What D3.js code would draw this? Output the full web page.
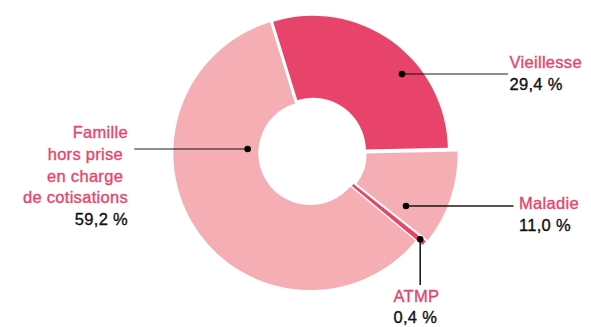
<!DOCTYPE html>
<html>
<head>
<meta charset="utf-8">
<script src="https://cdn.jsdelivr.net/npm/d3@7"></script>
<style>
  html, body { margin: 0; padding: 0; background: #fff; }
  svg text { font-family: "Liberation Sans", Arial, Helvetica, sans-serif; }
</style>
</head>
<body>
<svg id="chart" width="591" height="327"></svg>
<script>
// ---- Data ----
const categories = ["Vieillesse", "Maladie", "ATMP", "Famille hors prise en charge de cotisations"];
const values = [29.4, 11.0, 0.4, 59.2];
const valueLabels = ["29,4 %", "11,0 %", "0,4 %", "59,2 %"];
const nameLines = [["Vieillesse"], ["Maladie"], ["ATMP"], ["Famille", "hors prise\u00A0", "en charge\u00A0", "de cotisations"]];
const sliceColors = ["#e8436a", "#f4aeb4", "#e8436a", "#f4aeb4"];

// ---- Layout (not data) ----
const W = 591, H = 327;
const cx = 312, cy = 152;
const startDeg = -17.1;
const sliceGeom = [
  { inner: 53, outer: 135, offset: 1.5, widen: 0 },
  { inner: 47, outer: 138, offset: 8, widen: 0 },
  { inner: 47, outer: 138, offset: 6, widen: 1.2 },
  { inner: 52, outer: 137, offset: 2, widen: 0 }
];
// dot position in polar coords (deg from north, radius), label placement
const labelLayout = [
  { dotAng: 49.1, dotR: 119, kind: "right", lineEnd: 508, textX: 509.5, textY: 68.3 },
  { dotAng: 119.9, dotR: 108.4, kind: "right", lineEnd: 513.5, textX: 519, textY: 209.3 },
  { dotAng: 128.9, dotR: 139, kind: "down", lineEnd: 285, textX: 393.5, textY: 301.7 },
  { dotAng: 272.7, dotR: 64.4, kind: "left", lineEnd: 134.3, textX: 128, textY: 138.3 }
];
const lineH = 21.7;
const nameColor = "#e8436a";
const valueColor = "#111111";

const svg = d3.select("#chart");
const g = svg.append("g").attr("transform", `translate(${cx},${cy})`);

const pie = d3.pie().sort(null).value(d => d)
  .startAngle(startDeg * Math.PI / 180)
  .endAngle(startDeg * Math.PI / 180 + 2 * Math.PI);
const arcs = pie(values);

arcs.forEach((a, i) => {
  const geom = sliceGeom[i];
  const mid = (a.startAngle + a.endAngle) / 2;
  const ox = Math.sin(mid) * geom.offset, oy = -Math.cos(mid) * geom.offset;
  const arcGen = d3.arc().innerRadius(geom.inner).outerRadius(geom.outer);
  const p = g.append("path")
    .attr("d", arcGen(a))
    .attr("transform", `translate(${ox},${oy})`)
    .attr("fill", sliceColors[i]);
  if (geom.widen > 0) p.attr("stroke", sliceColors[i]).attr("stroke-width", geom.widen);
});

const fontSize = 16.5;
function addText(x, y, anchor, color, t) {
  svg.append("text")
    .attr("x", x).attr("y", y)
    .attr("text-anchor", anchor)
    .attr("font-size", fontSize)
    .attr("letter-spacing", "0.3px")
    .attr("fill", color)
    .attr("stroke", color)
    .attr("stroke-width", 0.35)
    .text(t);
}

arcs.forEach((a, i) => {
  const L = labelLayout[i];
  const ang = L.dotAng * Math.PI / 180;
  const dx = cx + Math.sin(ang) * L.dotR, dy = cy - Math.cos(ang) * L.dotR;
  let x2 = dx, y2 = dy, op = 1;
  if (L.kind === "right") { x2 = L.lineEnd; op = i === 0 ? 0.6 : 0.9; }
  else if (L.kind === "left") { x2 = L.lineEnd; op = 0.6; }
  else { y2 = L.lineEnd; op = 0.95; }
  svg.append("line")
    .attr("x1", dx).attr("y1", dy).attr("x2", x2).attr("y2", y2)
    .attr("stroke", "#000").attr("stroke-opacity", op).attr("stroke-width", 1.5);
  svg.append("circle").attr("cx", dx).attr("cy", dy).attr("r", 3.3).attr("fill", "#000");

  const anchor = L.kind === "left" ? "end" : "start";
  const lines = nameLines[i];
  lines.forEach((t, j) => addText(L.textX, L.textY + j * lineH, anchor, nameColor, t));
  addText(L.textX, L.textY + lines.length * lineH, anchor, valueColor, valueLabels[i]);
});
</script>
</body>
</html>
